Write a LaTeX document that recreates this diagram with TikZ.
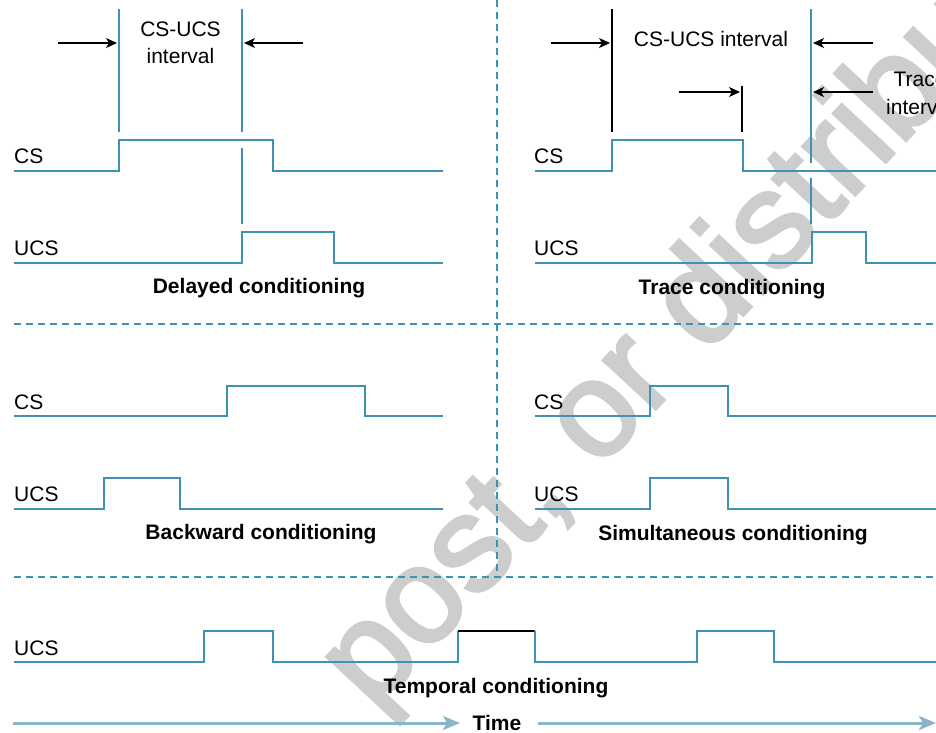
\documentclass[tikz,border=0pt]{standalone}
\usepackage{fontspec}
\setmainfont{Liberation Sans}
\newfontfamily\wmfont[FakeBold=2.5]{Liberation Sans}
\usetikzlibrary{arrows.meta}
\definecolor{sig}{RGB}{62,146,180}
\definecolor{timecol}{RGB}{138,180,200}
\definecolor{wm}{RGB}{205,205,205}
\begin{document}
\begin{tikzpicture}[x=1pt,y=-1pt,
  sigline/.style={draw=sig,line width=1.4pt},
  marker/.style={draw=sig,line width=1.3pt},
  blackmark/.style={draw=black,line width=1.2pt},
  dim/.style={draw=black,line width=1.2pt,-{Stealth[length=11pt,width=10pt,inset=3pt]}},
  divider/.style={draw=sig,line width=1.1pt,dash pattern=on 7pt off 5pt},
  timearrow/.style={draw=timecol,line width=3pt,-{Stealth[length=17pt,width=14pt,inset=4pt]}},
  lbl/.style={inner sep=0pt,font=\fontsize{21}{25}\selectfont},
  head/.style={inner sep=0pt,font=\bfseries\fontsize{21}{25}\selectfont,anchor=base},
  wmark/.style={inner sep=0pt,text=wm,font=\wmfont\fontsize{135}{140}\selectfont,rotate=47,anchor=base west}]
\useasboundingbox (0,0) rectangle (936,732);
\clip (0,0) rectangle (936,732);

% watermark
\node[wmark] (wmtext) at (373,712) {post, or distribute};

% dividers
\coordinate (vd1) at (497,0);
\coordinate (vd2) at (497,577);
\coordinate (hd1a) at (14,324);
\coordinate (hd1b) at (936,324);
\coordinate (hd2a) at (14,577);
\coordinate (hd2b) at (936,577);
\draw[divider] (vd1) -- (vd2);
\draw[divider] (hd1a) -- (hd1b);
\draw[divider] (hd2a) -- (hd2b);

% ===== Delayed conditioning =====
\draw[marker] (119,9) -- (119,132);
\draw[marker] (242,9) -- (242,132);
\draw[marker] (242,148) -- (242,224);
\coordinate (d1s) at (58,43);  \coordinate (d1e) at (117,43);
\coordinate (d2s) at (303,43); \coordinate (d2e) at (244,43);
\draw[dim] (d1s) -- (d1e);
\draw[dim] (d2s) -- (d2e);
\node[lbl,anchor=base] (dint1) at (180.5,36) {CS-UCS};
\node[lbl,anchor=base] (dint2) at (180.5,63) {interval};
\node[lbl,anchor=base west] (dcs) at (14,163) {CS};
\node[lbl,anchor=base west] (ducs) at (14,255) {UCS};
\draw[sigline] (14,171) -- (119,171) -- (119,140) -- (273,140) -- (273,171) -- (443,171);
\draw[sigline] (14,263) -- (242,263) -- (242,232) -- (334,232) -- (334,263) -- (443,263);
\node[head] (dhead) at (259,293) {Delayed conditioning};

% ===== Trace conditioning =====
\draw[blackmark] (612,9) -- (612,132);
\draw[blackmark] (742,86) -- (742,132);
\draw[marker] (811,9) -- (811,163);
\draw[marker] (811,178) -- (811,224);
\coordinate (t1s) at (551,43); \coordinate (t1e) at (610,43);
\coordinate (t2s) at (873,43); \coordinate (t2e) at (813,43);
\coordinate (t3s) at (679,92); \coordinate (t3e) at (740,92);
\coordinate (t4s) at (873,92); \coordinate (t4e) at (813,92);
\draw[dim] (t1s) -- (t1e);
\draw[dim] (t2s) -- (t2e);
\draw[dim] (t3s) -- (t3e);
\draw[dim] (t4s) -- (t4e);
\node[lbl,anchor=base] (tint) at (711,46) {CS-UCS interval};
\node[lbl,anchor=base] (trint1) at (920,86) {Trace};
\node[lbl,anchor=base] (trint2) at (920,114) {interval};
\node[lbl,anchor=base west] (tcs) at (534,163) {CS};
\node[lbl,anchor=base west] (tucs) at (534,255) {UCS};
\draw[sigline] (535,171) -- (612,171) -- (612,140) -- (743,140) -- (743,171) -- (936,171);
\draw[sigline] (535,263) -- (812,263) -- (812,232) -- (866,232) -- (866,263) -- (936,263);
\node[head] (thead) at (732,294) {Trace conditioning};

% ===== Backward conditioning =====
\node[lbl,anchor=base west] (bcs) at (14,409) {CS};
\node[lbl,anchor=base west] (bucs) at (14,501) {UCS};
\draw[sigline] (14,416) -- (227,416) -- (227,386) -- (365,386) -- (365,416) -- (443,416);
\draw[sigline] (14,509) -- (104,509) -- (104,478) -- (180,478) -- (180,509) -- (443,509);
\node[head] (bhead) at (261,539) {Backward conditioning};

% ===== Simultaneous conditioning =====
\node[lbl,anchor=base west] (scs) at (534,409) {CS};
\node[lbl,anchor=base west] (sucs) at (534,501) {UCS};
\draw[sigline] (535,416) -- (650,416) -- (650,386) -- (728,386) -- (728,416) -- (936,416);
\draw[sigline] (535,509) -- (650,509) -- (650,478) -- (728,478) -- (728,509) -- (936,509);
\node[head] (shead) at (733,540) {Simultaneous conditioning};

% ===== Temporal conditioning =====
\node[lbl,anchor=base west] (pucs) at (14,655) {UCS};
\draw[sigline] (14,662) -- (204,662) -- (204,631) -- (273,631) -- (273,662) -- (458,662) -- (458,631);
\draw[blackmark] (458,631) -- (535,631);
\draw[sigline] (535,631) -- (535,662) -- (697,662) -- (697,631) -- (774,631) -- (774,662) -- (936,662);
\node[head] (phead) at (496,693) {Temporal conditioning};

% ===== Time axis =====
\node[head] (time) at (497,730) {Time};
\coordinate (ta0) at (13,723);
\coordinate (ta1) at (460,723);
\coordinate (tb0) at (538,723);
\coordinate (tb1) at (936,723);
\draw[timearrow] (ta0) -- (ta1);
\draw[timearrow] (tb0) -- (tb1);
\end{tikzpicture}
\end{document}
